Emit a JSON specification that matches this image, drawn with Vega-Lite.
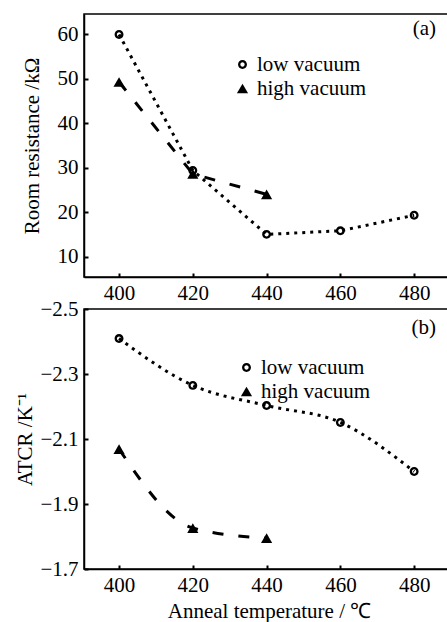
{
  "$schema": "https://vega.github.io/schema/vega-lite/v6.json",
  "padding": {"left": 14, "top": 13, "right": 0, "bottom": 0},
  "background": "white",
  "spacing": 32,
  "bounds": "flush",
  "data": {"name": "pts"},
  "datasets": {
    "pts": [
      {"panel": "a", "series": "low vacuum", "temp": 400, "value": 60.0},
      {"panel": "a", "series": "low vacuum", "temp": 420, "value": 29.4},
      {"panel": "a", "series": "low vacuum", "temp": 440, "value": 15.0},
      {"panel": "a", "series": "low vacuum", "temp": 460, "value": 15.8},
      {"panel": "a", "series": "low vacuum", "temp": 480, "value": 19.3},
      {"panel": "a", "series": "high vacuum", "temp": 400, "value": 49.3},
      {"panel": "a", "series": "high vacuum", "temp": 420, "value": 28.6},
      {"panel": "a", "series": "high vacuum", "temp": 440, "value": 24.0},
      {"panel": "b", "series": "low vacuum", "temp": 400, "value": -2.409},
      {"panel": "b", "series": "low vacuum", "temp": 420, "value": -2.265},
      {"panel": "b", "series": "low vacuum", "temp": 440, "value": -2.203},
      {"panel": "b", "series": "low vacuum", "temp": 460, "value": -2.151},
      {"panel": "b", "series": "low vacuum", "temp": 480, "value": -2.0},
      {"panel": "b", "series": "high vacuum", "temp": 400, "value": -2.069},
      {"panel": "b", "series": "high vacuum", "temp": 420, "value": -1.826},
      {"panel": "b", "series": "high vacuum", "temp": 440, "value": -1.795}
    ]
  },
  "config": {
    "view": {"stroke": "black", "strokeWidth": 1.5},
    "axis": {
      "grid": false,
      "domainColor": "black",
      "domainWidth": 1.5,
      "tickColor": "black",
      "tickWidth": 2,
      "tickSize": -4,
      "labelFont": "Liberation Serif",
      "labelFontSize": 21,
      "labelColor": "black",
      "titleFont": "Liberation Serif",
      "titleFontSize": 21,
      "titleFontWeight": "normal",
      "titleColor": "black"
    },
    "legend": {
      "labelFont": "Liberation Serif",
      "labelFontSize": 21,
      "labelColor": "black",
      "labelOffset": 4,
      "rowPadding": 2,
      "symbolFillColor": "black"
    },
    "title": {
      "font": "Liberation Serif",
      "fontSize": 21,
      "fontWeight": "normal",
      "color": "black"
    }
  },
  "vconcat": [
    {
      "width": 370,
      "height": 263,
      "title": {"text": "(a)", "anchor": "end", "frame": "group", "orient": "top", "offset": -42, "dx": -18, "baseline": "alphabetic"},
      "transform": [{"filter": "datum.panel === 'a'"}],
      "encoding": {
        "x": {"field": "temp", "type": "quantitative",
              "scale": {"domain": [390.5, 490.8], "nice": false, "zero": false},
              "axis": {"values": [400, 420, 440, 460, 480], "title": null, "labelPadding": 9}},
        "y": {"field": "value", "type": "quantitative",
              "scale": {"domain": [5.4, 64.6], "nice": false, "zero": false},
              "axis": {"values": [10, 20, 30, 40, 50, 60], "title": "Room resistance /kΩ", "labelPadding": 10, "titlePadding": 15}}
      },
      "layer": [
        {
          "mark": {"type": "line", "color": "black", "strokeWidth": 3},
          "encoding": {
            "detail": {"field": "series"},
            "strokeDash": {"field": "series", "type": "nominal",
                           "scale": {"domain": ["high vacuum", "low vacuum"], "range": [[11, 15], [3, 5]]},
                           "legend": null}
          }
        },
        {
          "mark": {"type": "point", "filled": true, "color": "black", "opacity": 1},
          "encoding": {
            "shape": {"field": "series", "type": "nominal",
                      "scale": {"domain": ["low vacuum", "high vacuum"], "range": ["M-1,0A1,1 0 1,1 1,0A1,1 0 1,1 -1,0ZM-0.48,0A0.48,0.48 0 1,0 0.48,0A0.48,0.48 0 1,0 -0.48,0Z", "triangle-up"]},
                      "legend": {"title": null, "orient": "none", "legendX": 148, "legendY": 40}},
            "size": {"field": "series", "type": "nominal",
                     "scale": {"domain": ["low vacuum", "high vacuum"], "range": [80, 125]},
                     "legend": {"title": null, "orient": "none", "legendX": 148, "legendY": 40}}
          }
        }
      ]
    },
    {
      "width": 370,
      "height": 260,
      "title": {"text": "(b)", "anchor": "end", "frame": "group", "orient": "top", "offset": -57, "dx": -18, "baseline": "alphabetic"},
      "transform": [{"filter": "datum.panel === 'b'"}],
      "encoding": {
        "x": {"field": "temp", "type": "quantitative",
              "scale": {"domain": [390.5, 490.8], "nice": false, "zero": false},
              "axis": {"values": [400, 420, 440, 460, 480], "title": "Anneal temperature / ℃", "labelPadding": 9, "titlePadding": 5}},
        "y": {"field": "value", "type": "quantitative",
              "scale": {"domain": [-2.5, -1.7], "nice": false, "zero": false, "reverse": true},
              "axis": {"values": [-2.5, -2.3, -2.1, -1.9, -1.7], "format": ".1f", "title": "ATCR /K⁻¹", "labelPadding": 10, "titlePadding": 4}}
      },
      "layer": [
        {
          "mark": {"type": "line", "color": "black", "strokeWidth": 3, "interpolate": "monotone"},
          "encoding": {
            "detail": {"field": "series"},
            "strokeDash": {"field": "series", "type": "nominal",
                           "scale": {"domain": ["high vacuum", "low vacuum"], "range": [[11, 15], [3, 5]]},
                           "legend": null}
          }
        },
        {
          "mark": {"type": "point", "filled": true, "color": "black", "opacity": 1},
          "encoding": {
            "shape": {"field": "series", "type": "nominal",
                      "scale": {"domain": ["low vacuum", "high vacuum"], "range": ["M-1,0A1,1 0 1,1 1,0A1,1 0 1,1 -1,0ZM-0.48,0A0.48,0.48 0 1,0 0.48,0A0.48,0.48 0 1,0 -0.48,0Z", "triangle-up"]},
                      "legend": {"title": null, "orient": "none", "legendX": 152, "legendY": 48}},
            "size": {"field": "series", "type": "nominal",
                     "scale": {"domain": ["low vacuum", "high vacuum"], "range": [80, 125]},
                     "legend": {"title": null, "orient": "none", "legendX": 152, "legendY": 48}}
          }
        }
      ]
    }
  ],
  "resolve": {"scale": {"y": "independent", "shape": "independent", "size": "independent", "strokeDash": "independent"}, "legend": {"shape": "independent", "size": "independent"}}
}
